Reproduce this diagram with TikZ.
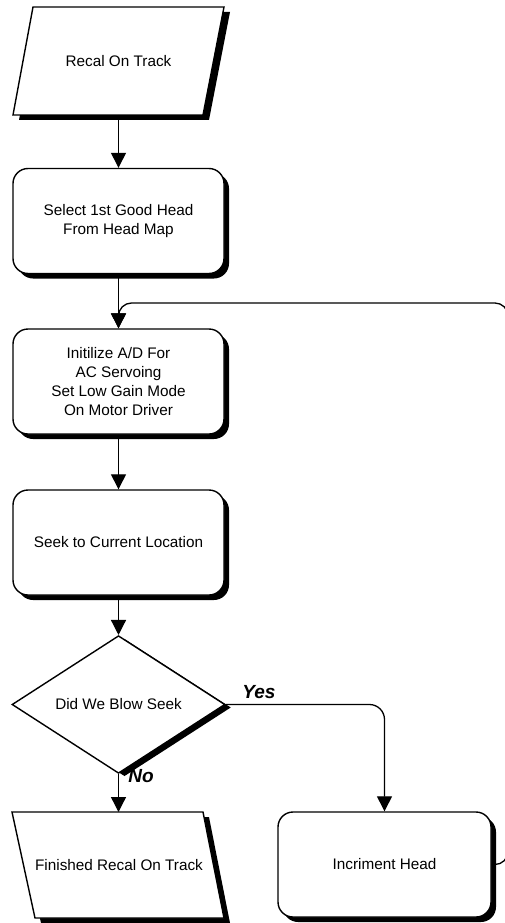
\documentclass[tikz,border=0pt]{standalone}
\usepackage{fontspec}
\setmainfont{Liberation Sans}
\usetikzlibrary{shadows,shapes.geometric,arrows.meta}
\newcommand{\boxfont}{\fontsize{15.3pt}{19pt}\selectfont}
\newcommand{\labfont}{\fontsize{19pt}{22pt}\selectfont\bfseries\itshape}
\tikzset{
  shad/.style={drop shadow={shadow xshift=5pt,shadow yshift=-5pt,fill=black,opacity=1}},
  proc/.style={draw,line width=1.4pt,fill=white,rounded corners=15pt,
    minimum width=211pt,minimum height=105pt,align=center,font=\boxfont,shad},
  iotext/.style={align=center,font=\boxfont,inner sep=0pt},
  ioshape/.style={draw,line width=1.4pt,fill=white},
  ioshadow/.style={fill=black},
  dec/.style={diamond,draw,line width=1.4pt,fill=white,minimum width=213pt,minimum height=105pt,
    inner sep=0pt,font=\boxfont,
    drop shadow={shadow xshift=6pt,shadow yshift=-3pt,fill=black,opacity=1}},
  conn/.style={line width=1.3pt,-{Triangle[length=15pt,width=15pt]}},
  lab/.style={font=\labfont,inner sep=0pt}
}
\begin{document}
\begin{tikzpicture}[x=1pt,y=-1pt]
\fill[white] (0,0) rectangle (504,923);
\useasboundingbox (0,0) rectangle (504,923);
% input parallelogram
\fill[ioshadow] (39,12) -- (230,12) -- (209,120) -- (19,120) -- cycle;
\draw[ioshape] (33,7) -- (224,7) -- (203,115) -- (13,115) -- cycle;
\node[iotext] (p1) at (118.5,61) {Recal On Track};
\coordinate (p1s) at (118.5,115);
\node[proc] (b2) at (118.5,221) {Select 1st Good Head\\From Head Map};
\node[proc] (b3) at (118.5,381.5) {Initilize A/D For\\AC Servoing\\Set Low Gain Mode\\On Motor Driver};
\node[proc] (b4) at (118.5,542.5) {Seek to Current Location};
\node[dec] (d) at (118.5,704.5) {Did We Blow Seek};
% output parallelogram
\fill[ioshadow] (18,817) -- (209,817) -- (230,923) -- (41,923) -- cycle;
\draw[ioshape] (12,812) -- (203,812) -- (224,918) -- (35,918) -- cycle;
\node[iotext] (p2) at (119,865) {Finished Recal On Track};
\coordinate (p2n) at (118.5,812);
\node[proc,minimum width=213pt] (ih) at (384.5,864.5) {Incriment Head};
\node[lab] (yes) at (259,692) {Yes};
\node[lab] (no) at (141,776) {No};
\coordinate (ycorner) at (384.5,704.5);
\coordinate (lr) at (508,864.5);
\coordinate (tr) at (508,303);
\coordinate (tl) at (118.5,303);
\draw[conn] (p1s) -- (b2.north);
\draw[conn] (b2.south) -- (b3.north);
\draw[conn] (b3.south) -- (b4.north);
\draw[conn] (b4.south) -- (d.north);
\draw[conn] (d.south) -- (p2n);
\draw[conn,rounded corners=15pt] (d.east) -- (ycorner) -- (ih.north);
\draw[conn,rounded corners=13pt] (ih.east) -- (lr) -- (tr) -- (tl) -- (b3.north);
\end{tikzpicture}
\end{document}
